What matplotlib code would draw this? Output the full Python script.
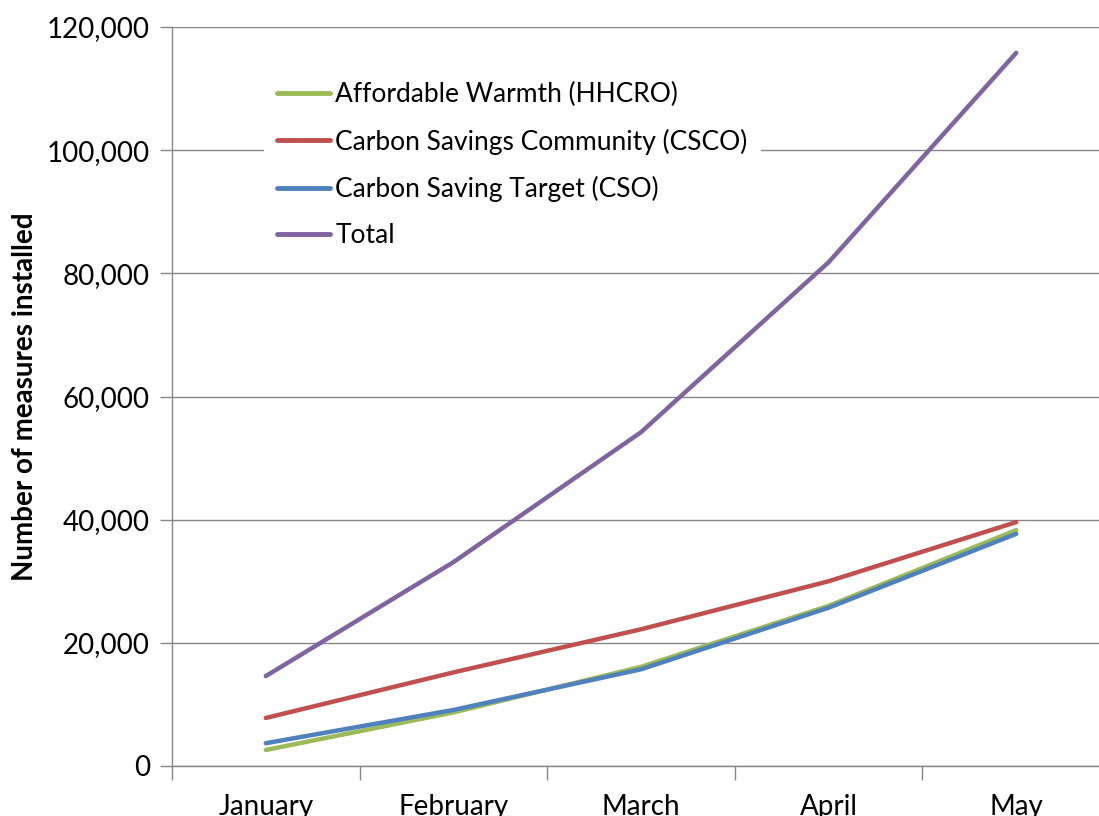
import matplotlib.pyplot as plt
import numpy as np
from matplotlib.ticker import FuncFormatter

months = ["January", "February", "March", "April", "May"]
hhcro = [2600, 8700, 16100, 26000, 38300]
csco = [7800, 15200, 22200, 30000, 39600]
cso = [3700, 9100, 15700, 25700, 37700]
total = [14600, 33100, 54200, 81800, 115800]

labels = ["Affordable Warmth (HHCRO)", "Carbon Savings Community (CSCO)",
          "Carbon Saving Target (CSO)", "Total"]
colors = ["#9BBB59", "#C0504D", "#4F81BD", "#8064A2"]

plt.rcParams['font.family'] = ['Lato', 'DejaVu Sans']
grid_col = "#868686"
fs = 20

fig = plt.figure(figsize=(10.99, 8.16), dpi=100)
ax = fig.add_axes([172 / 1099, 1 - 766 / 816, 938 / 1099, 739 / 816])

x = np.arange(len(months))
for series, lab, col in zip([hhcro, csco, cso, total], labels, colors):
    ax.plot(x, series, color=col, lw=3.2, label=lab, solid_capstyle="round", zorder=3)

ax.set_xlim(-0.5, len(months) - 0.5)
ax.set_ylim(0, 120000)
ax.set_yticks(np.arange(0, 120001, 20000))
ax.yaxis.set_major_formatter(FuncFormatter(lambda v, p: f"{int(v):,}"))
ax.grid(axis="y", color=grid_col, lw=1)
ax.set_axisbelow(True)

# category ticks at boundaries, labels at centers
ax.set_xticks(np.arange(-0.5, len(months), 1))
ax.set_xticklabels([])
ax.set_xticks(x, minor=True)
ax.set_xticklabels(months, minor=True, fontsize=fs)
ax.tick_params(axis="x", which="major", length=10, color=grid_col, width=1)
ax.tick_params(axis="x", which="minor", length=0, pad=20)
ax.tick_params(axis="y", length=9, color=grid_col, width=1, labelsize=fs, pad=7)

for s in ["top", "right"]:
    ax.spines[s].set_visible(False)
for s in ["left", "bottom"]:
    ax.spines[s].set_color(grid_col)
    ax.spines[s].set_linewidth(1)

ax.set_ylabel("Number of measures installed", fontsize=fs, fontweight="bold", labelpad=6)

leg = ax.legend(loc="upper left", bbox_to_anchor=(251 / 1099, 1 - 56 / 816),
                bbox_transform=fig.transFigure, frameon=True, fancybox=False,
                edgecolor="none", facecolor="white", framealpha=1,
                fontsize=19, handlelength=2.0, handletextpad=0.2,
                labelspacing=0.8, borderpad=0.5)
leg.get_frame().set_linewidth(0)
for h in leg.get_lines():
    h.set_linewidth(3.5)

fig.savefig("out.png", dpi=100)
